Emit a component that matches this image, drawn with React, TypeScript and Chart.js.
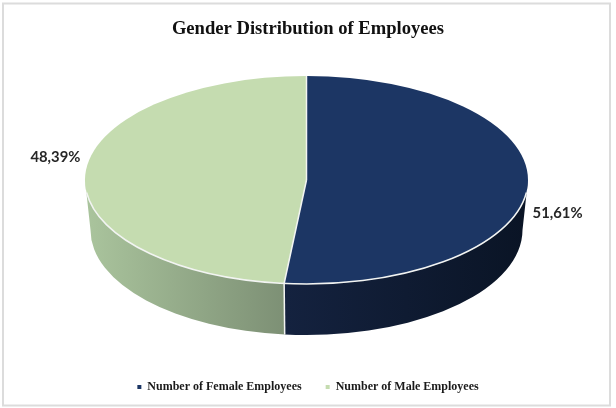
import React, { useEffect, useRef } from "react";
import { Chart, registerables } from "chart.js";

Chart.register(...registerables);

const titleText = "Gender Distribution of Employees";
const categories = ["Number of Female Employees", "Number of Male Employees"];
const shares = [51.61, 48.39];
const topColors = ["#1c3664", "#c5dcb0"];
const wallColors = [
  ["#14223f", "#0a1425"],
  ["#a9c39c", "#7d9075"],
];

const FACE = { cx: 306.5, cy: 180, rx: 221.5, ry: 104 };
const BASE = { cx: 306.5, cy: 230, rx: 216, ry: 105 };
const LABEL_SPREAD = 1.135;
const LABEL_NUDGE_Y = [27, -17];

const pie3d = {
  id: "pie3d",
  beforeDraw(chart: any) {
    const { ctx } = chart;
    ctx.save();
    ctx.fillStyle = "#ffffff";
    ctx.fillRect(0, 0, chart.width, chart.height);
    ctx.strokeStyle = "#dcdcdc";
    ctx.lineWidth = 2;
    ctx.strokeRect(3, 3.5, 607, 402);
    ctx.restore();
  },
  beforeDatasetsDraw(chart: any) {
    const { ctx } = chart;
    const arcs = chart.getDatasetMeta(0).data;
    arcs.forEach((arc: any, i: number) => {
      const a = Math.max(arc.startAngle, 0);
      const b = Math.min(arc.endAngle, Math.PI);
      if (b <= a) return;
      const x0 = BASE.cx + BASE.rx * Math.cos(b);
      const x1 = FACE.cx + FACE.rx * Math.cos(a);
      const grad = ctx.createLinearGradient(Math.min(x0, x1), 0, Math.max(x0, x1), 0);
      grad.addColorStop(0, wallColors[i][0]);
      grad.addColorStop(1, wallColors[i][1]);
      ctx.save();
      ctx.beginPath();
      ctx.ellipse(FACE.cx, FACE.cy, FACE.rx, FACE.ry, 0, a, b);
      ctx.ellipse(BASE.cx, BASE.cy, BASE.rx, BASE.ry, 0, b, a, true);
      ctx.closePath();
      ctx.fillStyle = grad;
      ctx.fill();
      ctx.restore();
    });
    const first = arcs[0];
    ctx.save();
    ctx.translate(FACE.cx, FACE.cy);
    ctx.scale(FACE.rx / first.outerRadius, FACE.ry / first.outerRadius);
    ctx.translate(-first.x, -first.y);
  },
  afterDatasetsDraw(chart: any) {
    const { ctx } = chart;
    ctx.restore();
    const arcs = chart.getDatasetMeta(0).data;
    ctx.save();
    ctx.strokeStyle = "#f2f4f2";
    ctx.lineWidth = 1.5;
    ctx.lineJoin = "round";
    arcs.forEach((arc: any) => {
      ctx.beginPath();
      ctx.moveTo(FACE.cx, FACE.cy);
      ctx.lineTo(FACE.cx + FACE.rx * Math.cos(arc.startAngle), FACE.cy + FACE.ry * Math.sin(arc.startAngle));
      ctx.stroke();
    });
    ctx.beginPath();
    ctx.ellipse(FACE.cx, FACE.cy, FACE.rx, FACE.ry, 0, 0.12, Math.PI - 0.12);
    ctx.stroke();
    const seam = arcs[0].endAngle;
    ctx.beginPath();
    ctx.moveTo(FACE.cx + FACE.rx * Math.cos(seam), FACE.cy + FACE.ry * Math.sin(seam));
    ctx.lineTo(BASE.cx + BASE.rx * Math.cos(seam), BASE.cy + BASE.ry * Math.sin(seam));
    ctx.stroke();

    ctx.font = "bold 14.8px Lato";
    ctx.fillStyle = "#262626";
    ctx.textAlign = "center";
    ctx.textBaseline = "middle";
    arcs.forEach((arc: any, i: number) => {
      const mid = (arc.startAngle + arc.endAngle) / 2;
      const x = FACE.cx + FACE.rx * LABEL_SPREAD * Math.cos(mid);
      const y = FACE.cy + FACE.ry * LABEL_SPREAD * Math.sin(mid) + LABEL_NUDGE_Y[i];
      ctx.fillText(shares[i].toFixed(2).replace(".", ",") + "%", x, y);
    });
    ctx.restore();
  },
};

export default function App() {
  const ref = useRef<HTMLCanvasElement | null>(null);
  useEffect(() => {
    const chart = new Chart(ref.current as HTMLCanvasElement, {
      type: "pie",
      data: {
        labels: categories,
        datasets: [
          {
            data: shares,
            backgroundColor: topColors,
            borderWidth: 0,
            clip: false,
          } as any,
        ],
      },
      options: {
        animation: false,
        responsive: false,
        events: [],
        layout: { padding: { top: 10, bottom: 5, left: 0, right: 0 } },
        plugins: {
          tooltip: { enabled: false },
          title: {
            display: true,
            text: titleText,
            color: "#111111",
            font: { family: "'Liberation Serif'", size: 18.6, weight: "bold" },
            padding: { top: 8, bottom: 20 },
          },
          legend: {
            position: "bottom",
            labels: {
              boxWidth: 4,
              boxHeight: 4,
              padding: 24,
              color: "#1a1a1a",
              font: { family: "'Liberation Serif'", size: 12, weight: "bold" },
            },
          },
        },
      },
      plugins: [pie3d],
    } as any);
    return () => chart.destroy();
  }, []);
  return (
    <canvas
      ref={ref}
      width={616}
      height={408}
      style={{ position: "fixed", left: 0, top: 0, display: "block", width: 616, height: 408 }}
    />
  );
}
